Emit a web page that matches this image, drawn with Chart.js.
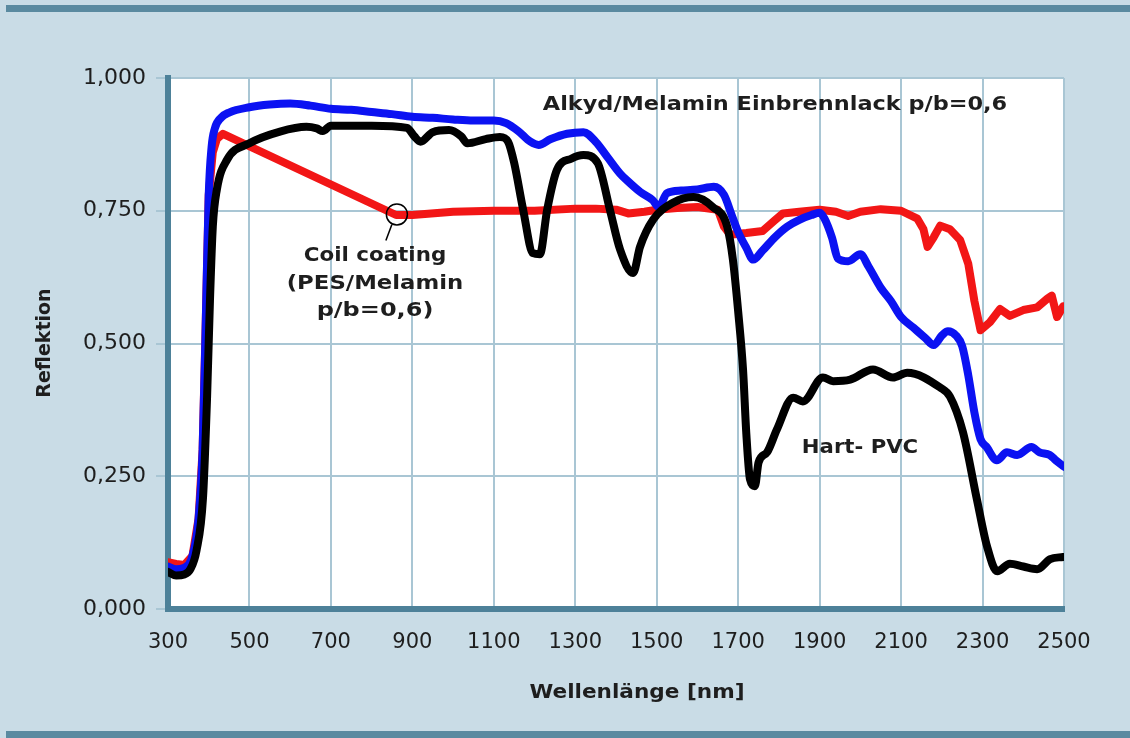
<!DOCTYPE html>
<html>
<head>
<meta charset="utf-8">
<script src="https://cdn.jsdelivr.net/npm/chart.js@4"></script>
<style>
    html, body { margin: 0; padding: 0; background: #ffffff; }
    #wrap { position: relative; width: 1130px; height: 738px; background: #c9dce6; overflow: hidden; }
    .bar { position: absolute; left: 6px; right: 0; height: 7px; background: #5a8aa0; }
    canvas { position: absolute; left: 0; top: 0; }
</style>
</head>
<body>
<div id="wrap">
    <div class="bar" style="top:5px"></div>
    <div class="bar" style="top:731px"></div>
    <canvas id="chart" width="1130" height="738"></canvas>
</div>
<script>
// Achsen
var xTicks = [300, 500, 700, 900, 1100, 1300, 1500, 1700, 1900, 2100, 2300, 2500];
var yTicks = [0, 0.25, 0.5, 0.75, 1];

// Hart-PVC (schwarz)
var pvcNm = [300, 320, 340, 355, 370, 386, 396, 403, 410, 420, 445, 500, 575, 640, 665, 680, 700, 800, 887, 905, 920, 950, 990, 1020, 1035, 1080, 1115, 1135, 1150, 1172, 1196, 1213, 1231, 1255, 1290, 1320, 1355, 1385, 1410, 1442, 1459, 1491, 1540, 1590, 1638, 1673, 1687, 1700, 1712, 1720, 1729, 1741, 1750, 1771, 1795, 1835, 1859, 1908, 1933, 1975, 2031, 2080, 2115, 2196, 2220, 2252, 2286, 2311, 2336, 2367, 2400, 2434, 2466, 2498];
var pvcVal = [0.07, 0.063, 0.065, 0.075, 0.11, 0.21, 0.40, 0.58, 0.72, 0.79, 0.846, 0.877, 0.899, 0.908, 0.905, 0.90, 0.91, 0.91, 0.906, 0.89, 0.88, 0.898, 0.902, 0.89, 0.877, 0.885, 0.889, 0.88, 0.84, 0.752, 0.67, 0.668, 0.752, 0.827, 0.848, 0.855, 0.84, 0.752, 0.677, 0.633, 0.682, 0.733, 0.765, 0.776, 0.757, 0.72, 0.658, 0.56, 0.45, 0.33, 0.244, 0.231, 0.276, 0.295, 0.338, 0.398, 0.391, 0.436, 0.429, 0.432, 0.451, 0.436, 0.445, 0.417, 0.40, 0.333, 0.207, 0.118, 0.071, 0.085, 0.08, 0.075, 0.094, 0.098];

// Alkyd/Melamin Einbrennlack (blau)
var alkydNm = [300, 320, 340, 360, 375, 385, 393, 400, 407, 415, 430, 450, 500, 550, 600, 650, 700, 750, 800, 850, 900, 950, 1000, 1050, 1100, 1130, 1160, 1190, 1210, 1240, 1280, 1320, 1350, 1380, 1410, 1430, 1460, 1490, 1505, 1525, 1560, 1600, 1640, 1665, 1685, 1700, 1720, 1737, 1760, 1790, 1820, 1850, 1880, 1900, 1912, 1930, 1945, 1970, 2000, 2020, 2050, 2075, 2100, 2130, 2160, 2180, 2200, 2215, 2235, 2250, 2265, 2280, 2295, 2310, 2335, 2360, 2385, 2420, 2440, 2465, 2480, 2500];
var alkydVal = [0.08, 0.075, 0.078, 0.10, 0.17, 0.30, 0.55, 0.78, 0.87, 0.905, 0.925, 0.935, 0.945, 0.95, 0.952, 0.948, 0.942, 0.94, 0.936, 0.932, 0.927, 0.925, 0.922, 0.92, 0.92, 0.915, 0.90, 0.88, 0.874, 0.885, 0.895, 0.898, 0.88, 0.85, 0.82, 0.805, 0.785, 0.77, 0.757, 0.783, 0.788, 0.79, 0.795, 0.78, 0.74, 0.71, 0.68, 0.658, 0.675, 0.70, 0.72, 0.733, 0.742, 0.746, 0.735, 0.70, 0.66, 0.655, 0.668, 0.645, 0.605, 0.58, 0.55, 0.53, 0.51, 0.497, 0.515, 0.523, 0.515, 0.495, 0.44, 0.37, 0.32, 0.305, 0.28, 0.295, 0.29, 0.305, 0.295, 0.29, 0.28, 0.268];

// Coil coating PES/Melamin (rot)
var coilNm = [300, 320, 340, 360, 375, 385, 393, 400, 410, 420, 435, 860, 900, 1000, 1100, 1200, 1300, 1350, 1400, 1430, 1470, 1500, 1550, 1600, 1650, 1665, 1680, 1720, 1760, 1790, 1810, 1850, 1900, 1940, 1970, 2000, 2050, 2100, 2140, 2155, 2165, 2180, 2196, 2220, 2245, 2265, 2280, 2295, 2318, 2343, 2367, 2400, 2434, 2460, 2470, 2483, 2498];
var coilVal = [0.088, 0.085, 0.083, 0.10, 0.17, 0.30, 0.55, 0.78, 0.86, 0.885, 0.895, 0.742, 0.742, 0.748, 0.75, 0.75, 0.754, 0.754, 0.752, 0.745, 0.748, 0.752, 0.755, 0.757, 0.752, 0.72, 0.705, 0.708, 0.712, 0.732, 0.745, 0.748, 0.752, 0.748, 0.74, 0.748, 0.753, 0.75, 0.735, 0.715, 0.682, 0.70, 0.722, 0.715, 0.695, 0.65, 0.58, 0.525, 0.54, 0.565, 0.552, 0.563, 0.568, 0.585, 0.59, 0.55, 0.57];

var gridColor = '#a9c6d4';
var axisColor = '#4d8199';
var textColor = '#1e1e1e';

function punkte(nm, val) {
    return nm.map(function (x, i) { return { x: x, y: val[i] }; });
}

// Weisser Plotbereich
var hintergrund = {
    id: 'hintergrund',
    beforeDraw: function (chart) {
        var a = chart.chartArea, ctx = chart.ctx;
        ctx.save();
        ctx.fillStyle = '#ffffff';
        ctx.fillRect(a.left, a.top, a.right - a.left, a.bottom - a.top);
        ctx.restore();
    }
};

// Text etwas breiter gezogen, wie im Original
function breitText(ctx, t, cx, cy, sx) {
    ctx.save();
    ctx.translate(cx, cy);
    ctx.scale(sx, 1);
    ctx.fillText(t, 0, 0);
    ctx.restore();
}

// Beschriftungen und Achsentitel
var beschriftung = {
    id: 'beschriftung',
    afterDatasetsDraw: function (chart) {
        var ctx = chart.ctx, xs = chart.scales.x, ys = chart.scales.y;
        ctx.save();
        ctx.textAlign = 'center';
        ctx.textBaseline = 'middle';
        ctx.fillStyle = textColor;
        ctx.font = 'bold 20px "DejaVu Sans"';

        breitText(ctx, 'Alkyd/Melamin Einbrennlack p/b=0,6', 775, 105, 1.12);
        breitText(ctx, 'Coil coating', 375, 256, 1.07);
        breitText(ctx, '(PES/Melamin', 375, 284, 1.14);
        breitText(ctx, 'p/b=0,6)', 375, 311, 1.2);
        breitText(ctx, 'Hart- PVC', 860, 448, 1.06);

        // Kreis-Markierung auf der roten Kurve
        var px = xs.getPixelForValue(862), py = ys.getPixelForValue(0.743);
        ctx.strokeStyle = '#000000';
        ctx.lineWidth = 1.5;
        ctx.beginPath();
        ctx.arc(px, py, 10.5, 0, Math.PI * 2);
        ctx.stroke();
        ctx.beginPath();
        ctx.moveTo(px - 5, py + 10);
        ctx.lineTo(px - 11, py + 26);
        ctx.stroke();

        // Achsentitel
        breitText(ctx, 'Wellenlänge [nm]', 637, 693, 1.08);
        ctx.translate(45, 343);
        ctx.rotate(-Math.PI / 2);
        ctx.font = 'bold 19px "DejaVu Sans"';
        ctx.fillText('Reflektion', 0, 0);
        ctx.restore();
    }
};

var linie = { borderWidth: 8, pointRadius: 0, fill: false, cubicInterpolationMode: 'monotone', borderJoinStyle: 'round', borderCapStyle: 'round' };

new Chart(document.getElementById('chart'), {
    type: 'line',
    data: {
        datasets: [
            Object.assign({ label: 'Hart-PVC', data: punkte(pvcNm, pvcVal), borderColor: '#000000' }, linie),
            Object.assign({ label: 'Alkyd/Melamin Einbrennlack', data: punkte(alkydNm, alkydVal), borderColor: '#0b12f2' }, linie),
            Object.assign({}, linie, { label: 'Coil coating', data: punkte(coilNm, coilVal), borderColor: '#f21616', cubicInterpolationMode: 'default', tension: 0 })
        ]
    },
    options: {
        responsive: false,
        animation: false,
        layout: { padding: { top: 78, right: 66, left: 0, bottom: 0 } },
        plugins: {
            legend: { display: false },
            tooltip: { enabled: false }
        },
        scales: {
            x: {
                type: 'linear',
                min: 300,
                max: 2500,
                afterFit: function (s) { s.height = 129; },
                afterBuildTicks: function (s) { s.ticks = xTicks.map(function (v) { return { value: v }; }); },
                ticks: {
                    callback: function (v) { return String(v); },
                    font: { family: 'DejaVu Sans', size: 21 },
                    color: textColor,
                    padding: 21,
                    maxRotation: 0
                },
                grid: { color: gridColor, lineWidth: 2, drawTicks: false },
                border: { color: axisColor, width: 6 }
            },
            y: {
                min: 0,
                max: 1,
                afterFit: function (s) { s.width = 168; },
                afterBuildTicks: function (s) { s.ticks = yTicks.map(function (v) { return { value: v }; }); },
                ticks: {
                    callback: function (v) { return v.toFixed(3).replace('.', ','); },
                    font: { family: 'DejaVu Sans', size: 22 },
                    color: textColor,
                    padding: 10
                },
                grid: { color: gridColor, lineWidth: 2, tickLength: 12 },
                border: { color: axisColor, width: 6 }
            }
        }
    },
    plugins: [hintergrund, beschriftung]
});
</script>
</body>
</html>
